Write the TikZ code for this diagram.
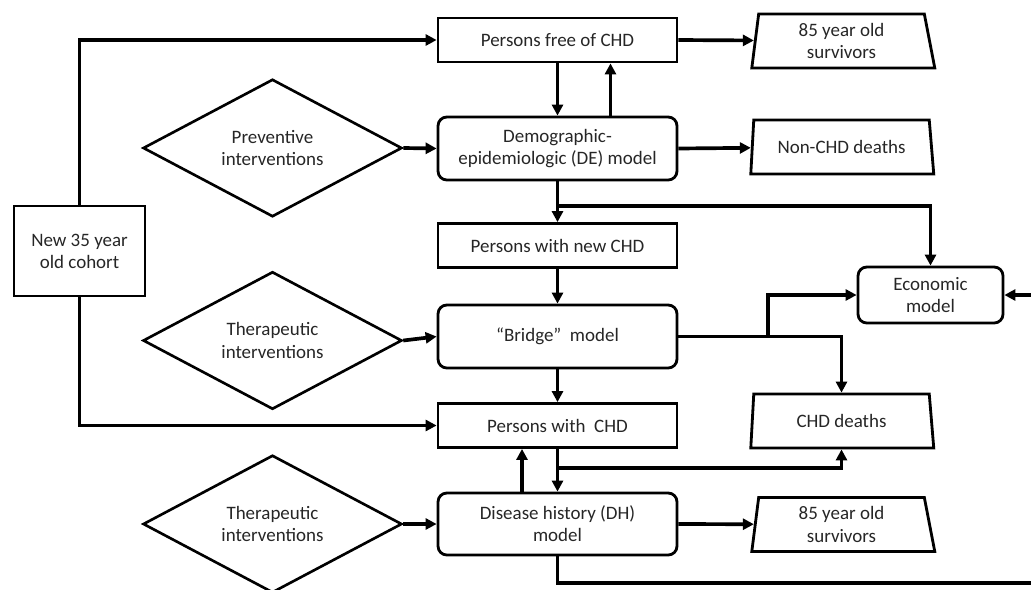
\documentclass[tikz,border=0pt]{standalone}
\usepackage{fontspec}
\setmainfont{Carlito}
\usepackage{tikz}
\usetikzlibrary{shapes.geometric, arrows.meta, positioning, calc}

\begin{document}
\begin{tikzpicture}[
    x=0.02cm, y=-0.02cm,
    every node/.style={font=\fontsize{10.8}{12.6}\selectfont, text=black!85},
    pbox/.style={rectangle, draw, line width=1.6pt, minimum height=0.88cm, minimum width=4.78cm, align=center},
    model/.style={rectangle, draw, rounded corners=5pt, line width=1.6pt, minimum height=1.26cm, minimum width=4.78cm, align=center},
    interv/.style={diamond, draw, line width=1.5pt, minimum width=5.18cm, minimum height=2.72cm, inner sep=0pt, align=center},
    outcome/.style={trapezium, trapezium left angle=80, trapezium right angle=75, trapezium stretches body=true, draw, line width=1.6pt, minimum height=1.08cm, minimum width=3.66cm, inner sep=1pt, align=center},
    arr/.style={-{Triangle[length=2.2mm, width=2.2mm]}, line width=2.1pt}
]
    \clip (0,0) rectangle (1031,589);

    \node (cohort) [pbox, minimum width=2.62cm, minimum height=1.8cm] at (79.5,251) {New 35 year\\old cohort};

    \node (free) [pbox] at (557.5,40) {Persons free of CHD};
    \node (de) [model] at (557.5,148.5) {Demographic-\\epidemiologic (DE) model};
    \node (newchd) [pbox] at (557.5,245.5) {Persons with new CHD};
    \node (bridge) [model] at (557.5,336.5) {``Bridge''\ \ model};
    \node (withchd) [pbox] at (557.5,425.5) {Persons with\ \ CHD};
    \node (dh) [model, minimum height=1.24cm] at (557.5,524) {Disease history (DH)\\model};

    \node (prev) [interv] at (272.5,148) {Preventive\\interventions};
    \node (ther1) [interv, minimum height=2.5cm] at (272.5,340.5) {Therapeutic\\interventions};
    \node (ther2) [interv] at (272.5,524) {Therapeutic\\interventions};

    \node (surv1) [outcome] at (841.5,41) {85 year old\\survivors};
    \node (nonchd) [outcome] at (841.5,147) {Non-CHD deaths};
    \node (chdd) [outcome] at (841.5,421) {CHD deaths};
    \node (surv2) [outcome] at (841.5,524.5) {85 year old\\survivors};

    \node (econ) [model, minimum width=2.9cm, minimum height=1.12cm] at (930.5,295) {Economic\\model};

    \coordinate (j1) at (559,206);
    \coordinate (j2) at (768,336.5);
    \coordinate (j3) at (559,468);
    \coordinate (loop) at (1045,583);

    \draw[arr] (cohort.north) |- (free.west);
    \draw[arr] (cohort.south) |- (withchd.west);
    \draw[arr] (prev.east) -- (de.west);
    \draw[arr] (ther1.east) -- (bridge.west);
    \draw[arr] (ther2.east) -- (dh.west);

    \draw[arr] (free.south) -- (de.north);
    \draw[arr] ([xshift=1.06cm]de.north) -- ([xshift=1.06cm]free.south);
    \draw[arr] (free.east) -- (surv1);
    \draw[arr] (de.east) -- (nonchd);
    \draw[arr] (de.south) -- (newchd.north);
    \draw[arr] (j1) -| (econ.north);
    \draw[arr] (newchd.south) -- (bridge.north);
    \draw[arr] (bridge.east) -| (chdd.north);
    \draw[arr] (j2) |- (econ.west);
    \draw[arr] (bridge.south) -- (withchd.north);
    \draw[arr] (withchd.south) -- (dh.north);
    \draw[arr] (j3) -| (chdd.south);
    \draw[arr] ([xshift=-0.71cm]dh.north) -- ([xshift=-0.71cm]withchd.south);
    \draw[arr] (dh.east) -- (surv2);
    \draw[arr] (dh.south) |- (loop) |- (econ.east);
\end{tikzpicture}
\end{document}
